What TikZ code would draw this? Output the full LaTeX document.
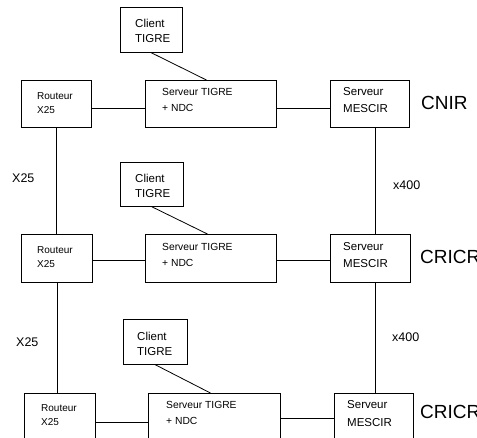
\documentclass[tikz,border=0pt]{standalone}
\usepackage{fontspec}
\setmainfont{Liberation Sans}
\begin{document}
\begin{tikzpicture}[x=1pt,y=-1pt,
  box/.style={draw, line width=0.8pt, inner sep=0pt, anchor=north west},
  txt/.style={inner sep=0pt, anchor=west, align=left},
  conn/.style={line width=0.8pt},
  fcl/.style={font=\fontsize{11.5}{15}\selectfont},
  frt/.style={font=\fontsize{10}{14}\selectfont},
  fsv/.style={font=\fontsize{10.3}{16}\selectfont},
  fms/.style={font=\fontsize{11.5}{17.5}\selectfont},
  flink/.style={font=\fontsize{12.5}{14}\selectfont, inner sep=0pt, anchor=west},
  fsite/.style={font=\fontsize{19}{22}\selectfont, inner sep=0pt, anchor=west}]
\useasboundingbox (0,0) rectangle (477,438);
\clip (0,0) rectangle (477,438);
% Row 1
\node[box, minimum width=62pt, minimum height=45pt] (c1) at (120,7) {};
\node[txt, fcl] (c1t) at (135,30.5) {Client\\TIGRE};
\node[box, minimum width=70pt, minimum height=47pt] (r1) at (21,80) {};
\node[txt, frt] (r1t) at (37,103) {Routeur\\X25};
\node[box, minimum width=131pt, minimum height=47pt] (s1) at (145,80) {};
\node[txt, fsv] (s1t) at (162,100) {Serveur TIGRE\\+ NDC};
\node[box, minimum width=79pt, minimum height=47pt] (m1) at (330,80) {};
\node[txt, fms] (m1t) at (343,100) {Serveur\\MESCIR};
\node[fsite] (cnir) at (421,103) {CNIR};
% Row 2
\node[box, minimum width=63pt, minimum height=44pt] (c2) at (120,162) {};
\node[txt, fcl] (c2t) at (135,185.5) {Client\\TIGRE};
\node[box, minimum width=71pt, minimum height=48pt] (r2) at (21,234) {};
\node[txt, frt] (r2t) at (37,257) {Routeur\\X25};
\node[box, minimum width=131pt, minimum height=48pt] (s2) at (145,234) {};
\node[txt, fsv] (s2t) at (162,255) {Serveur TIGRE\\+ NDC};
\node[box, minimum width=80pt, minimum height=48pt] (m2) at (330,234) {};
\node[txt, fms] (m2t) at (343,255) {Serveur\\MESCIR};
\node[fsite] (cricr1) at (420,257) {CRICR};
% Row 3
\node[box, minimum width=64pt, minimum height=45pt] (c3) at (123,319) {};
\node[txt, fcl] (c3t) at (137,344) {Client\\TIGRE};
\node[box, minimum width=71pt, minimum height=48pt] (r3) at (24,393) {};
\node[txt, frt] (r3t) at (41,415) {Routeur\\X25};
\node[box, minimum width=132pt, minimum height=48pt] (s3) at (148,393) {};
\node[txt, fsv] (s3t) at (166,413) {Serveur TIGRE\\+ NDC};
\node[box, minimum width=79pt, minimum height=48pt] (m3) at (334,393) {};
\node[txt, fms] (m3t) at (347,413.5) {Serveur\\MESCIR};
\node[fsite] (cricr2) at (420,412) {CRICR};
% Link labels
\node[flink] (x25a) at (12,178) {X25};
\node[flink] (x25b) at (16,342) {X25};
\node[flink] (x400a) at (393,185) {x400};
\node[flink] (x400b) at (392,337) {x400};
% Connectors
\draw[conn] (r1.east |- 0,108) -- (s1.west |- 0,108);
\draw[conn] (s1.east |- 0,108) -- (m1.west |- 0,108);
\draw[conn] (r2.east |- 0,260) -- (s2.west |- 0,260);
\draw[conn] (s2.east |- 0,260) -- (m2.west |- 0,260);
\draw[conn] (r3.east |- 0,422) -- (s3.west |- 0,422);
\draw[conn] (s3.east |- 0,418) -- (m3.west |- 0,418);
\draw[conn] (c1.south) -- ([xshift=-4.5pt]s1.north);
\draw[conn] (c2.south) -- ([xshift=-3.5pt]s2.north);
\draw[conn] (c3.south) -- ([xshift=-4pt]s3.north);
\draw[conn] (r1.south) -- (r1.south |- r2.north);
\draw[conn] (r2.south) -- (r2.south |- r3.north);
\draw[conn] ([xshift=5.5pt]m1.south) -- ([xshift=5.5pt]m1.south |- m2.north);
\draw[conn] ([xshift=5pt]m2.south) -- ([xshift=5pt]m2.south |- m3.north);
\end{tikzpicture}
\end{document}
